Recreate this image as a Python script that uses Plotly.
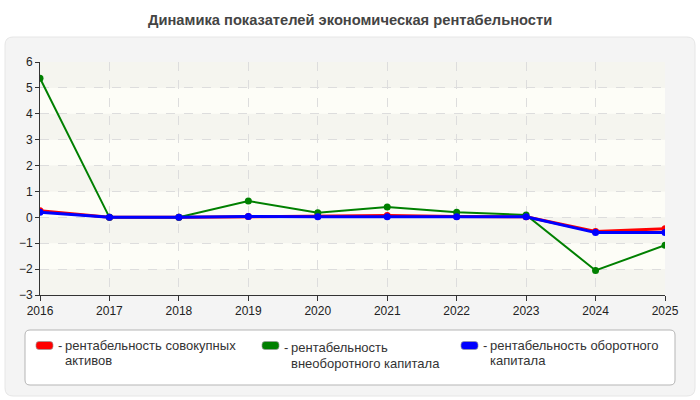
import plotly.graph_objects as go

years = [2016, 2017, 2018, 2019, 2020, 2021, 2022, 2023, 2024, 2025]
series_names = [
    "рентабельность совокупных<br>активов",
    "рентабельность<br>внеоборотного капитала",
    "рентабельность оборотного<br>капитала",
]
red_vals = [0.25, 0.0, 0.0, 0.03, 0.05, 0.07, 0.03, 0.02, -0.55, -0.44]
green_vals = [5.37, 0.0, 0.0, 0.63, 0.18, 0.40, 0.20, 0.09, -2.05, -1.08]
blue_vals = [0.20, 0.0, 0.0, 0.03, 0.02, 0.02, 0.02, 0.02, -0.59, -0.59]
colors = ["#ff0000", "#008000", "#0000ff"]
widths = [3, 2, 3]
y_ticks = [-3, -2, -1, 0, 1, 2, 3, 4, 5, 6]
title = "Динамика показателей экономическая рентабельности"

FONT = "Liberation Sans"
W, H = 700, 400
L, R, T, B = 40, 35, 62, 105
pw, ph = W - L - R, H - T - B

def px(x):
    return (x - L) / pw

def py(y):
    return (H - B - y) / ph

fig = go.Figure()
for vals, c, w, n in zip([red_vals, green_vals, blue_vals], colors, widths, series_names):
    fig.add_trace(go.Scatter(
        x=years, y=vals, mode="lines+markers", name=n,
        line=dict(color=c, width=w),
        marker=dict(color=c, size=7),
        showlegend=False,
    ))

def rrect(xa, xb, ya, yb, rad_px):
    rx = rad_px / pw
    ry = rad_px / ph
    return (f"M {xa+rx},{ya} L {xb-rx},{ya} Q {xb},{ya} {xb},{ya+ry} "
            f"L {xb},{yb-ry} Q {xb},{yb} {xb-rx},{yb} L {xa+rx},{yb} "
            f"Q {xa},{yb} {xa},{yb-ry} L {xa},{ya+ry} Q {xa},{ya} {xa+rx},{ya} Z")

shapes = []
shapes.append(dict(type="path", xref="paper", yref="paper", path=rrect(px(5), px(695), py(396), py(37), 8),
                   fillcolor="#f4f4f4", line=dict(color="#e6e6e6", width=1), layer="below"))
shapes.append(dict(type="rect", xref="paper", yref="paper", x0=0, x1=1, y0=0, y1=1,
                   fillcolor="#fdfdf7", line=dict(width=0), layer="below"))
for t in y_ticks[:-1]:
    if (y_ticks[-1] - t) % 2 == 1:
        shapes.append(dict(type="rect", xref="paper", yref="y", x0=0, x1=1, y0=t, y1=t + 1,
                           fillcolor="rgba(232,232,228,0.4)", line=dict(width=0), layer="below"))
shapes.append(dict(type="path", xref="paper", yref="paper",
                   path=rrect(px(25), px(675), py(385), py(330), 5),
                   fillcolor="#ffffff", line=dict(color="#b5b5b5", width=1)))

annotations = [dict(text=f"<b>{title}</b>", xref="paper", yref="paper", x=px(350),
                    y=py(20), xanchor="center", yanchor="middle", showarrow=False,
                    font=dict(family=FONT, size=14.7, color="#444444"))]
leg_x = [36, 262, 461]
line1_y = [345, 347, 345]
line2_y = [360, 363, 360]
for lx, c, n, y1, y2 in zip(leg_x, colors, series_names, line1_y, line2_y):
    shapes.append(dict(type="path", xref="paper", yref="paper",
                       path=rrect(px(lx), px(lx + 17), py(349.5), py(341.5), 3),
                       fillcolor=c, line=dict(color="#999999", width=0.7)))
    lines = n.split("<br>")
    annotations.append(dict(text="-", xref="paper", yref="paper", x=px(lx + 20), y=py(y1),
                            xanchor="left", yanchor="middle", showarrow=False,
                            font=dict(family=FONT, size=13, color="#333333")))
    for txt, yy in zip(lines, [y1, y2]):
        annotations.append(dict(text=txt, xref="paper", yref="paper", x=px(lx + 27), y=py(yy),
                                xanchor="left", yanchor="middle", align="left", showarrow=False,
                                font=dict(family=FONT, size=13, color="#333333")))

fig.update_layout(
    width=W, height=H,
    margin=dict(l=L, r=R, t=T, b=B),
    paper_bgcolor="#ffffff",
    plot_bgcolor="rgba(0,0,0,0)",
    shapes=shapes,
    annotations=annotations,
    font=dict(family=FONT, size=12, color="#333333"),
    xaxis=dict(range=[2016, 2025], tickvals=years, ticks="outside", ticklen=5,
               tickcolor="#333333", showline=True, linecolor="#333333", linewidth=1,
               showgrid=True, gridcolor="#dddddd", griddash="dash", zeroline=False,
               tickfont=dict(size=12, color="#222222")),
    yaxis=dict(range=[-3, 6], tickvals=y_ticks, ticks="outside", ticklen=4,
               tickcolor="#333333", showline=True, linecolor="#333333", linewidth=1,
               showgrid=True, gridcolor="#dddddd", griddash="dash", zeroline=False,
               tickfont=dict(size=12, color="#222222")),
)
fig.write_html("out.html")
